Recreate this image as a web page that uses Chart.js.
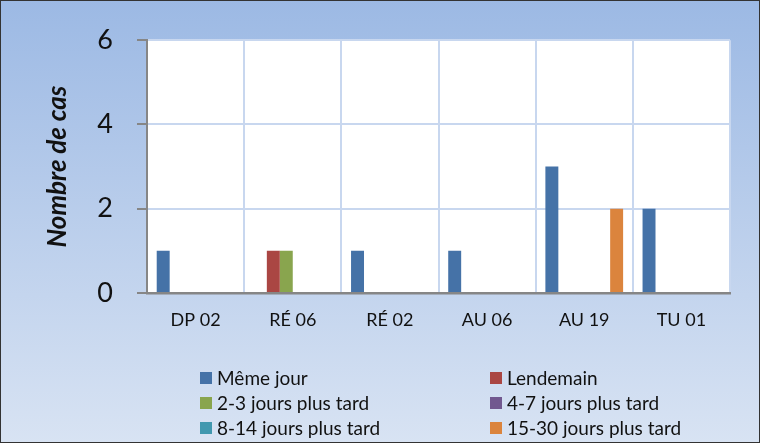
<!DOCTYPE html>
<html>
<head>
<meta charset="utf-8">
<script src="https://cdn.jsdelivr.net/npm/chart.js@4.4.1/dist/chart.umd.min.js"></script>
<style>
  html, body { margin: 0; padding: 0; background: #fff; }
  #wrap { width: 760px; height: 443px; }
</style>
</head>
<body>
<div id="wrap"><canvas id="chart" width="760" height="443"></canvas></div>
<script>
const CATEGORIES = ["DP 02", "RÉ 06", "RÉ 02", "AU 06", "AU 19", "TU 01"];
const SAME_DAY = [1, 0, 1, 1, 3, 2];
const NEXT_DAY = [0, 1, 0, 0, 0, 0];
const DAYS_2_3 = [0, 1, 0, 0, 0, 0];
const DAYS_4_7 = [0, 0, 0, 0, 0, 0];
const DAYS_8_14 = [0, 0, 0, 0, 0, 0];
const DAYS_15_30 = [0, 0, 0, 0, 2, 0];
const Y_MAX = 6;
const Y_STEP = 2;

const SERIES = [
  { label: "Même jour", data: SAME_DAY, color: "#4572a7" },
  { label: "Lendemain", data: NEXT_DAY, color: "#aa4643" },
  { label: "2-3 jours plus tard", data: DAYS_2_3, color: "#89a54e" },
  { label: "4-7 jours plus tard", data: DAYS_4_7, color: "#71588f" },
  { label: "8-14 jours plus tard", data: DAYS_8_14, color: "#4198af" },
  { label: "15-30 jours plus tard", data: DAYS_15_30, color: "#db843d" },
];

const FONT = "Lato, 'Open Sans', sans-serif";
const GRID = "#c8d7ef";
const AXIS = "#868686";

// gradient backdrop, white plot area and the thin frame
const backdrop = {
  id: "backdrop",
  beforeDraw(chart) {
    const { ctx, width, height, chartArea: a } = chart;
    const g = ctx.createLinearGradient(0, 0, 0, height);
    g.addColorStop(0, "#9cb9e4");
    g.addColorStop(1, "#d8e3f3");
    ctx.save();
    ctx.fillStyle = g;
    ctx.fillRect(0, 0, width, height);
    ctx.fillStyle = "#fff";
    ctx.fillRect(a.left, a.top, a.right - a.left, a.bottom - a.top);
    ctx.strokeStyle = "#333";
    ctx.lineWidth = 1;
    ctx.strokeRect(0.5, 0.5, width - 1, height - 1);
    ctx.restore();
  },
};

// two-column legend, like the spreadsheet one
const gridLegend = {
  id: "gridLegend",
  afterDraw(chart) {
    const { ctx } = chart;
    const cols = [200, 490];
    const rowY = 378, rowGap = 25, box = 12;
    ctx.save();
    ctx.font = "19px " + FONT;
    ctx.textBaseline = "middle";
    chart.data.datasets.forEach((ds, i) => {
      const x = cols[i % 2];
      const y = rowY + Math.floor(i / 2) * rowGap;
      ctx.fillStyle = ds.backgroundColor;
      ctx.fillRect(x, y - box / 2, box, box);
      ctx.fillStyle = "#111";
      ctx.fillText(ds.label, x + box + 5, y + 1);
    });
    ctx.restore();
  },
};

new Chart(document.getElementById("chart"), {
  type: "bar",
  data: {
    labels: CATEGORIES,
    datasets: SERIES.map((s) => ({
      label: s.label,
      data: s.data,
      backgroundColor: s.color,
      borderWidth: 0,
      categoryPercentage: 0.8,
      barPercentage: 1,
    })),
  },
  options: {
    responsive: false,
    animation: false,
    devicePixelRatio: 1,
    layout: { padding: { top: 38, right: 30, bottom: 110, left: 0 } },
    plugins: {
      legend: { display: false },
      tooltip: { enabled: false },
    },
    scales: {
      x: {
        grid: { offset: true, color: GRID, lineWidth: 2, drawTicks: false },
        border: { color: AXIS, width: 2.5 },
        ticks: { color: "#111", font: { family: FONT, size: 18 }, padding: 16 },
        afterFit(scale) { scale.height = 40; },
      },
      y: {
        min: 0,
        max: Y_MAX,
        ticks: { stepSize: Y_STEP, color: "#111", font: { family: FONT, size: 27 }, padding: 24 },
        grid: { color: GRID, lineWidth: 2, tickColor: AXIS, tickLength: 10, tickWidth: 2 },
        border: { color: AXIS, width: 2 },
        title: {
          display: true,
          text: "Nombre de cas",
          color: "#111",
          font: { family: FONT, size: 26, weight: "bold", style: "italic" },
          padding: { top: 42, bottom: 0 },
        },
        afterFit(scale) { scale.width = 147; },
      },
    },
  },
  plugins: [backdrop, gridLegend],
});
</script>
</body>
</html>
